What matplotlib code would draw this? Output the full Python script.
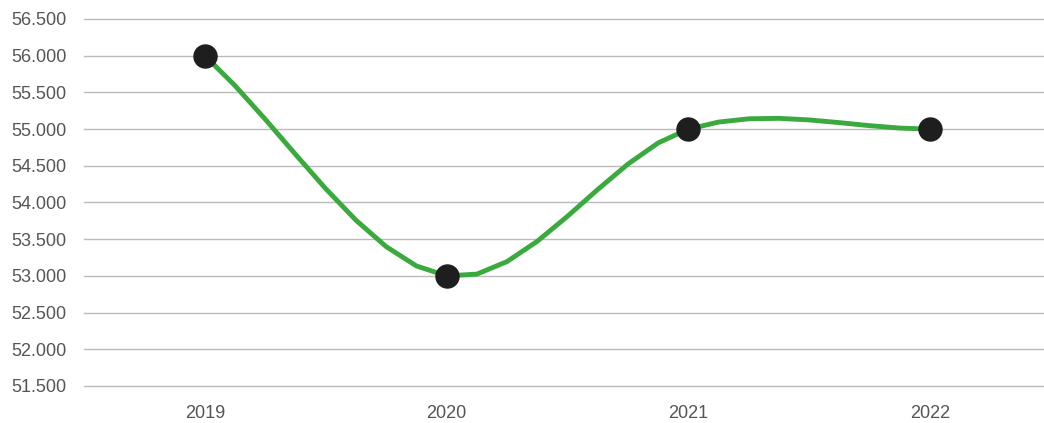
import numpy as np
import matplotlib
matplotlib.use("Agg")
import matplotlib.pyplot as plt
from matplotlib.ticker import FuncFormatter

years = ["2019", "2020", "2021", "2022"]
values = [56000, 53000, 55000, 55000]
y_ticks = [51500, 52000, 52500, 53000, 53500, 54000, 54500, 55000, 55500, 56000, 56500]

plt.rcParams['font.family'] = ['Liberation Sans', 'DejaVu Sans']

fig = plt.figure(figsize=(10.44, 4.23), dpi=100)
W, H = 1044, 423
ax = fig.add_axes([84 / W, (H - 386) / H, 967 / W, 367 / H])

x = np.arange(len(values), dtype=float)
y = np.array(values, dtype=float)
n = len(y)
# Catmull-Rom style tangents
m = np.zeros(n)
for i in range(n):
    if i == 0:
        m[i] = y[1] - y[0]
    elif i == n - 1:
        m[i] = 0.0
    else:
        m[i] = (y[i + 1] - y[i - 1]) / 2
xs, ys = [], []
steps = 8
for i in range(n - 1):
    for k in range(steps + (1 if i == n - 2 else 0)):
        t = k / steps
        h00 = 2 * t**3 - 3 * t**2 + 1
        h10 = t**3 - 2 * t**2 + t
        h01 = -2 * t**3 + 3 * t**2
        h11 = t**3 - t**2
        xs.append(x[i] + t)
        ys.append(h00 * y[i] + h10 * m[i] + h01 * y[i + 1] + h11 * m[i + 1])

ax.plot(xs, ys, color='#3aaa3f', lw=3.5, solid_joinstyle='round', zorder=3)
ax.scatter(x, y, s=275, color='#1e1e1e', zorder=4)

ax.set_xlim(-0.5, 3.5)
ax.set_ylim(51500, 56500)
ax.set_yticks(y_ticks)
ax.yaxis.set_major_formatter(FuncFormatter(lambda v, p: f"{int(v):,}".replace(",", ".")))
ax.set_xticks(x)
ax.set_xticklabels(years)
ax.grid(axis='y', color='#bbbbbb', lw=1)
for gl in ax.get_ygridlines():
    gl.set_clip_on(False)
ax.set_axisbelow(True)
for s in ax.spines.values():
    s.set_visible(False)
ax.tick_params(axis='both', length=0, labelsize=13, labelcolor='#555555')
ax.tick_params(axis='y', pad=12.5)
ax.tick_params(axis='x', pad=14)

fig.savefig("out.png", dpi=100)
